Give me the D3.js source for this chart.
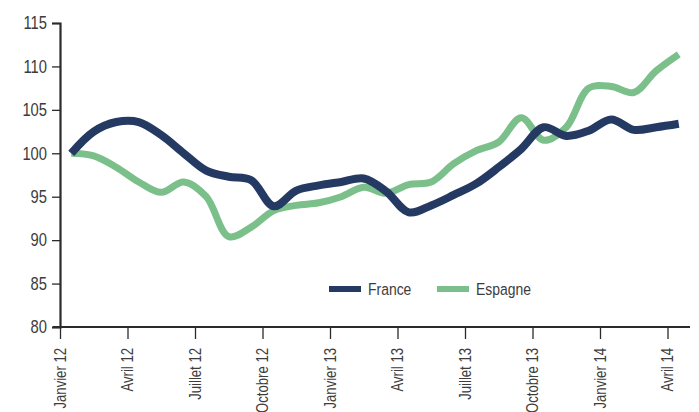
<!DOCTYPE html>
<html>
<head>
<meta charset="utf-8">
<script src="https://cdn.jsdelivr.net/npm/d3@7"></script>
<style>
  body { margin: 0; background: #fff; }
  svg text { font-family: "Liberation Sans", Arial, sans-serif; fill: #3c3c3c; }
</style>
</head>
<body>
<svg id="chart" width="699" height="412"></svg>
<script>
// monthly index, Janvier 12 .. Avril 14
var tickLabels = ["Janvier 12", "Avril 12", "Juillet 12", "Octobre 12", "Janvier 13", "Avril 13",
                  "Juillet 13", "Octobre 13", "Janvier 14", "Avril 14"];
var yTicks = [80, 85, 90, 95, 100, 105, 110, 115];

var france = [100, 102.5, 103.6, 103.6, 102.1, 100, 98.0, 97.3, 96.9, 93.9,
              95.7, 96.3, 96.7, 97.1, 95.6, 93.2, 94.0, 95.2, 96.5, 98.4,
              100.5, 103.0, 102.0, 102.6, 103.9, 102.7, 103.0, 103.4];
var espagne = [100, 99.7, 98.4, 96.7, 95.5, 96.7, 95.0, 90.4, 91.5, 93.4,
               94.0, 94.3, 95.0, 96.1, 95.4, 96.4, 96.7, 98.8, 100.3, 101.3,
               104.1, 101.5, 103.0, 107.5, 107.7, 107.0, 109.5, 111.4];

var svg = d3.select("#chart");
var mLeft = 60, mRight = 690, mTop = 23, mBottom = 327;
var narrow = 0.82; // condensed look

var x = d3.scaleLinear().domain([0, 28]).range([mLeft, mRight]);
var y = d3.scaleLinear().domain([80, 115]).range([mBottom, mTop]);

// y axis
var yAxis = svg.append("g")
    .attr("transform", "translate(" + mLeft + ",0)")
    .call(d3.axisLeft(y).tickValues(yTicks).tickSize(8).tickFormat(""));
yAxis.select(".domain").attr("stroke", "#2b2b2b").attr("stroke-width", 2.2);
yAxis.selectAll(".tick line").attr("stroke", "#2b2b2b").attr("stroke-width", 1.3);

svg.append("g").selectAll("text")
  .data(yTicks)
  .enter().append("text")
    .attr("transform", function(d) { return "translate(" + (mLeft - 13) + "," + y(d) + ") scale(" + narrow + ",1)"; })
    .attr("text-anchor", "end")
    .attr("dy", "0.35em")
    .attr("font-size", 18)
    .text(function(d) { return d; });

// x axis
var xAxis = svg.append("g")
    .attr("transform", "translate(0," + mBottom + ")")
    .call(d3.axisBottom(x).tickValues(d3.range(0, 28, 3)).tickSize(12).tickFormat(""));
xAxis.select(".domain").attr("d", "M" + (mLeft - 7) + ",0H" + mRight)
    .attr("stroke", "#2b2b2b").attr("stroke-width", 2.2);
xAxis.selectAll(".tick line").attr("stroke", "#2b2b2b").attr("stroke-width", 1.3);

svg.append("g").selectAll("text")
  .data(tickLabels)
  .enter().append("text")
    .attr("transform", function(d, i) { return "translate(" + x(i * 3) + "," + (mBottom + 21) + ") rotate(-90) scale(" + narrow + ",1)"; })
    .attr("text-anchor", "end")
    .attr("dy", "0.35em")
    .attr("font-size", 16)
    .text(function(d) { return d; });

// lines
var line = d3.line()
    .x(function(d, i) { return x(i + 0.5); })
    .y(function(d) { return y(d); })
    .curve(d3.curveCatmullRom.alpha(0.5));

svg.append("path")
    .datum(espagne)
    .attr("fill", "none")
    .attr("stroke", "#7bbf8b")
    .attr("stroke-width", 7)
    .attr("d", line);

svg.append("path")
    .datum(france)
    .attr("fill", "none")
    .attr("stroke", "#253a63")
    .attr("stroke-width", 8)
    .attr("d", line);

// legend
var legend = [{name: "France", color: "#253a63", x: 329}, {name: "Espagne", color: "#7bbf8b", x: 437}];
var lg = svg.append("g").selectAll("g").data(legend).enter().append("g")
    .attr("transform", function(d) { return "translate(" + d.x + ",289)"; });
lg.append("line").attr("x1", 0).attr("x2", 32).attr("stroke", function(d) { return d.color; }).attr("stroke-width", 6);
lg.append("text")
    .attr("transform", "translate(39,0) scale(" + narrow + ",1)")
    .attr("dy", "0.35em").attr("font-size", 17)
    .text(function(d) { return d.name; });
</script>
</body>
</html>
